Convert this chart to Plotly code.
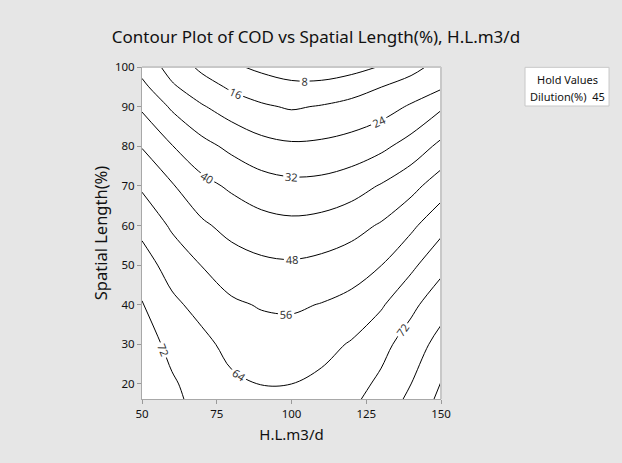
import plotly.graph_objects as go

# H.L.m3/d (x) and Spatial Length(%) (y) grid positions
hl_m3d = [50, 60, 70, 80, 90, 100, 110, 120, 130, 140, 150]
spatial_length = [16, 20, 30, 40, 50, 60, 70, 80, 90, 95, 100]

# COD values, one row per Spatial Length value
cod_at_16 = [79.4, 73.8, 69.4, 66.4, 64.9, 65.0, 67.3, 70.4, 75.4, 81.8, 90.0]
cod_at_20 = [78.8, 73.1, 68.2, 65.4, 63.9, 64.0, 65.8, 68.9, 73.6, 80.0, 88.3]
cod_at_30 = [76.3, 69.6, 66.1, 61.6, 59.7, 59.6, 61.4, 64.7, 69.6, 75.8, 82.9]
cod_at_40 = [72.5, 65.7, 61.4, 57.2, 55.4, 54.9, 56.3, 58.5, 63.1, 70.1, 76.9]
cod_at_50 = [67.5, 60.8, 55.8, 51.6, 49.6, 49.0, 50.1, 52.1, 55.9, 62.3, 69.7]
cod_at_60 = [61.8, 54.9, 49.3, 45.4, 43.0, 41.9, 42.8, 45.2, 48.8, 54.4, 61.5]
cod_at_70 = [54.9, 48.7, 42.4, 38.7, 35.4, 34.0, 34.4, 36.6, 40.6, 45.5, 52.2]
cod_at_80 = [47.6, 40.3, 34.5, 30.1, 26.6, 25.2, 25.6, 27.1, 30.2, 35.2, 41.9]
cod_at_90 = [38.8, 30.9, 24.7, 20.2, 17.0, 15.2, 16.5, 18.4, 20.7, 24.9, 30.9]
cod_at_95 = [34.0, 25.1, 19.5, 14.7, 11.8, 9.8, 10.0, 12.5, 15.9, 19.4, 22.9]
cod_at_100 = [29.3, 21.0, 14.3, 9.3, 6.3, 4.2, 3.9, 5.2, 8.5, 13.4, 18.9]

x_ticks = [50, 75, 100, 125, 150]
y_ticks = [20, 30, 40, 50, 60, 70, 80, 90, 100]
contour_start, contour_end, contour_step = 8, 88, 8

title_text = "Contour Plot of COD vs Spatial Length(%), H.L.m3/d"
hold_title = "Hold Values"
hold_line = "Dilution(%)  45"

cod = [cod_at_16, cod_at_20, cod_at_30, cod_at_40, cod_at_50, cod_at_60,
       cod_at_70, cod_at_80, cod_at_90, cod_at_95, cod_at_100]

FONT = "Noto Sans"

fig = go.Figure(
    go.Contour(
        x=hl_m3d,
        y=spatial_length,
        z=cod,
        contours=dict(
            coloring="none",
            start=contour_start,
            end=contour_end,
            size=contour_step,
            showlabels=True,
            labelfont=dict(family=FONT, size=11, color="#333333"),
        ),
        line=dict(color="black", width=1, smoothing=1.0),
        showscale=False,
        hoverinfo="skip",
    )
)

fig.update_layout(
    width=622,
    height=463,
    paper_bgcolor="#e6e6e6",
    plot_bgcolor="white",
    margin=dict(l=142, r=181, t=67, b=64),
    showlegend=False,
    title=dict(
        text=title_text,
        xref="container", x=0.508, xanchor="center",
        yref="container", y=0.921, yanchor="middle",
        font=dict(family=FONT, size=17, color="#111111"),
    ),
    font=dict(family=FONT, color="#111111"),
)

fig.update_xaxes(
    range=[50, 150],
    tickvals=x_ticks,
    ticks="outside", ticklen=4, tickcolor="#999999",
    showline=True, linecolor="#a8a8a8", linewidth=1,
    showgrid=False, zeroline=False,
    tickfont=dict(family=FONT, size=11.5, color="#111111"),
    title=dict(text="H.L.m3/d", font=dict(family=FONT, size=15, color="#111111"), standoff=9),
)
fig.update_yaxes(
    range=[16.2, 100],
    tickvals=y_ticks,
    ticks="outside", ticklen=4, tickcolor="#999999",
    showline=True, linecolor="#a8a8a8", linewidth=1,
    showgrid=False, zeroline=False,
    tickfont=dict(family=FONT, size=11.5, color="#111111"),
    title=dict(text="Spatial Length(%)", font=dict(family=FONT, size=16.5, color="#111111"), standoff=3),
)

# frame on top and right
fig.add_shape(type="line", xref="paper", yref="paper", x0=0, x1=1, y0=1, y1=1,
              line=dict(color="#c8c8c8", width=2))
fig.add_shape(type="line", xref="paper", yref="paper", x0=1, x1=1, y0=0, y1=1,
              line=dict(color="#c8c8c8", width=2))

# hold values box
fig.add_shape(type="rect", xref="paper", yref="paper",
              x0=1.281, x1=1.562, y0=0.8825, y1=0.999,
              fillcolor="white", line=dict(color="#c8c8c8", width=1))
fig.add_annotation(xref="paper", yref="paper", x=1.4215, y=0.962,
                   text=hold_title, showarrow=False, xanchor="center", yanchor="middle",
                   font=dict(family=FONT, size=11, color="#111111"))
fig.add_annotation(xref="paper", yref="paper", x=1.4215, y=0.91,
                   text=hold_line, showarrow=False, xanchor="center", yanchor="middle",
                   font=dict(family=FONT, size=11, color="#111111"))

fig.write_html(
    "out.html",
    config={"displayModeBar": False},
    post_script="document.body.style.margin='0';document.body.style.background='#e6e6e6';",
)
